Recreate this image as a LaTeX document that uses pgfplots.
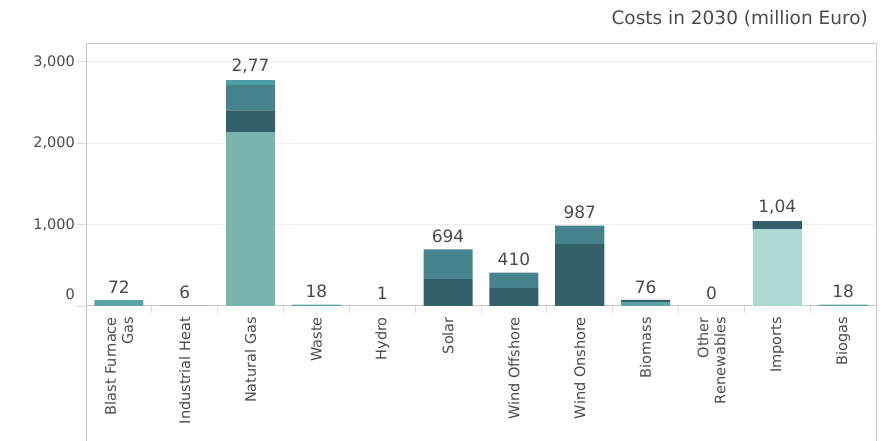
\documentclass[border=0pt]{standalone}
\usepackage{pgfplots}
\pgfplotsset{compat=1.18}
\usepackage{fontspec}
\setmainfont{DejaVu Sans}
\definecolor{txt}{HTML}{4A4A4A}
\definecolor{frame}{HTML}{C8C8C8}
\definecolor{gridc}{HTML}{EEEEEE}
\definecolor{impl}{HTML}{ACD9D1}
\definecolor{lt}{HTML}{78B5AF}
\definecolor{md}{HTML}{5AA5A5}
\definecolor{dk}{HTML}{335F69}
\definecolor{mm}{HTML}{47838C}
\definecolor{tp}{HTML}{4E9EA8}
\begin{document}
\begin{tikzpicture}
\useasboundingbox (0pt,0pt) rectangle (883pt,441pt);
\node[anchor=base east, text=txt, font=\fontsize{18.5}{21}\selectfont, inner sep=0pt] at (868pt,416pt) {Costs in 2030 (million Euro)};
\draw[frame, line width=1pt] (86pt,135pt) -- (86pt,0pt);
\draw[frame, line width=1pt] (876pt,135pt) -- (876pt,0pt);
\begin{axis}[
  at={(86pt,135pt)}, anchor=south west,
  width=790pt, height=262pt, scale only axis,
  ybar stacked, bar width=0.745,
  xmin=-0.5, xmax=11.5, ymin=0, ymax=3215,
  axis line style={frame, line width=1pt},
  xtick={0,...,11},
  xticklabels={{Blast Furnace\\Gas},Industrial Heat,Natural Gas,Waste,Hydro,Solar,Wind Offshore,Wind Onshore,Biomass,{Other\\Renewables},Imports,Biogas},
  x tick style={draw=none},
  minor xtick={0.5,1.5,...,10.5},
  minor x tick style={draw=frame!60, line width=0.8pt},
  minor tick length=7pt,
  xticklabel style={rotate=90, anchor=east, align=right, text=txt, font=\fontsize{14.5}{17}\selectfont, inner sep=2pt},
  ytick={1000,2000,3000},
  extra y ticks={0},
  extra y tick style={grid=none, yticklabel style={yshift=12pt}},
  y tick style={draw=frame!70, line width=0.8pt},
  major tick length=9pt,
  tick align=outside, tick pos=left,
  ymajorgrids, grid style={gridc, line width=1pt},
  yticklabel style={text=txt, font=\fontsize{14.5}{17}\selectfont, inner sep=2pt},
  /pgf/number format/1000 sep={,},
  /pgf/number format/assume math mode=true,
  clip=false,
]
% Imports light
\addplot[fill=impl, draw=none] coordinates {(0,0)(1,0)(2,0)(3,0)(4,0)(5,0)(6,0)(7,0)(8,0)(9,0)(10,945)(11,0)};
% medium teal small bars
\addplot[fill=md, draw=none] coordinates {(0,72)(1,6)(2,0)(3,18)(4,1)(5,0)(6,0)(7,0)(8,50)(9,0)(10,0)(11,18)};
% light teal
\addplot[fill=lt, draw=none] coordinates {(0,0)(1,0)(2,2130)(3,0)(4,0)(5,0)(6,0)(7,0)(8,0)(9,0)(10,0)(11,0)};
% dark
\addplot[fill=dk, draw=none] coordinates {(0,0)(1,0)(2,270)(3,0)(4,0)(5,330)(6,220)(7,760)(8,26)(9,0)(10,95)(11,0)};
% medium dark
\addplot[fill=mm, draw=none] coordinates {(0,0)(1,0)(2,310)(3,0)(4,0)(5,364)(6,190)(7,227)(8,0)(9,0)(10,0)(11,0)};
% top
\addplot[fill=tp, draw=none] coordinates {(0,0)(1,0)(2,60)(3,0)(4,0)(5,0)(6,0)(7,0)(8,0)(9,0)(10,0)(11,0)};
\end{axis}
\begin{axis}[
  at={(86pt,135pt)}, anchor=south west,
  width=790pt, height=262pt, scale only axis,
  xmin=-0.5, xmax=11.5, ymin=0, ymax=3215,
  hide axis, clip=false,
]
\addplot[draw=none, mark=none, point meta=explicit symbolic,
  nodes near coords,
  every node near coord/.append style={anchor=south, text=txt, font=\fontsize{17}{20}\selectfont, yshift=3pt}]
  table[meta=lab] {
x y lab
0 72 72
1 6 6
2 2770 2,77
3 18 18
4 1 1
5 694 694
6 410 410
7 987 987
8 76 76
9 0 0
10 1040 1,04
11 18 18
};
\end{axis}
\end{tikzpicture}
\end{document}
